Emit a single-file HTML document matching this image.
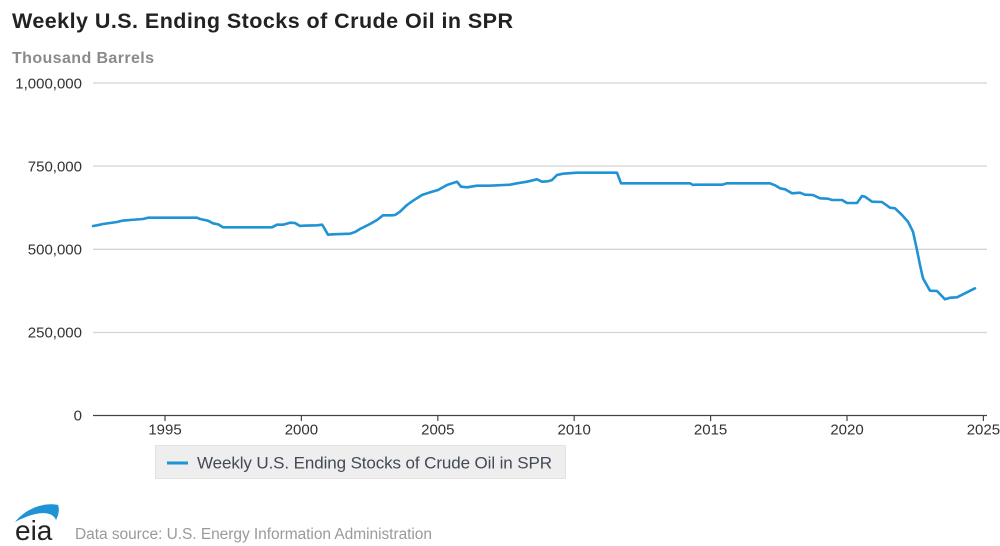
<!DOCTYPE html>
<html>
<head>
<meta charset="utf-8">
<style>
html,body{margin:0;padding:0;background:#fff;}
body{width:1000px;height:546px;overflow:hidden;}
svg{display:block;font-family:"Liberation Sans",Arial,sans-serif;}
</style>
</head>
<body>
<svg width="1000" height="546" viewBox="0 0 1000 546" xmlns="http://www.w3.org/2000/svg">
  <rect width="1000" height="546" fill="#fff"/>
  <text x="12" y="28" font-size="21.5" font-weight="bold" fill="#222" textLength="501" lengthAdjust="spacing">Weekly U.S. Ending Stocks of Crude Oil in SPR</text>
  <text x="12" y="63" font-size="16" font-weight="bold" fill="#8a8a8a" textLength="142" lengthAdjust="spacing">Thousand Barrels</text>

  <!-- gridlines -->
  <g stroke="#d4d4d4" stroke-width="1.3">
    <line x1="93" y1="83" x2="987" y2="83"/>
    <line x1="93" y1="166" x2="987" y2="166"/>
    <line x1="93" y1="249.3" x2="987" y2="249.3"/>
    <line x1="93" y1="332.5" x2="987" y2="332.5"/>
  </g>
  <line x1="93" y1="415.5" x2="987" y2="415.5" stroke="#444" stroke-width="1.3"/>
  <g stroke="#444" stroke-width="1.2">
    <line x1="165" y1="415" x2="165" y2="421"/>
    <line x1="301.4" y1="415" x2="301.4" y2="421"/>
    <line x1="437.8" y1="415" x2="437.8" y2="421"/>
    <line x1="574.2" y1="415" x2="574.2" y2="421"/>
    <line x1="710.6" y1="415" x2="710.6" y2="421"/>
    <line x1="847" y1="415" x2="847" y2="421"/>
    <line x1="983.4" y1="415" x2="983.4" y2="421"/>
  </g>

  <!-- y labels -->
  <g font-size="15" fill="#333" text-anchor="end">
    <text x="82" y="88.5">1,000,000</text>
    <text x="82" y="171.5">750,000</text>
    <text x="82" y="254.5">500,000</text>
    <text x="82" y="337.5">250,000</text>
    <text x="82" y="420.5">0</text>
  </g>
  <!-- x labels -->
  <g font-size="15" fill="#333" text-anchor="middle">
    <text x="165" y="434.5">1995</text>
    <text x="301.4" y="434.5">2000</text>
    <text x="437.8" y="434.5">2005</text>
    <text x="574.2" y="434.5">2010</text>
    <text x="710.6" y="434.5">2015</text>
    <text x="847" y="434.5">2020</text>
    <text x="983.4" y="434.5">2025</text>
  </g>

  <!-- series -->
  <polyline fill="none" stroke="#1f93d3" stroke-width="2.6" stroke-linejoin="round" stroke-linecap="round"
    points="93,226 97,225.3 103,224 110,223 117,222 122,220.7 130,220 143,219 148,217.7 197,217.7 200,219 208,220.7 213,223.3 218,224.3 223,227.3 272,227.3 277,224.7 283,224.7 290,222.7 295,223 300,226 303,225.7 317,225.3 322,224.7 323,226 328,234.7 333,234.3 350,233.7 355,232 360,229 370,224 377,220 383,215.3 392,215.3 395,215 400,211.7 407,205 413,200.7 422,195 427,193.3 432,191.7 438,190 447,185 452,183.3 457,181.7 461,186.7 467,187.3 477,185.7 490,185.7 510,184.7 517,183.3 527,181.7 537,179.3 542,181.7 548,181.3 552,180 557,175 563,173.7 577,172.7 617,172.7 621,183.3 650,183.3 690,183.3 693,185 695,184.7 722,184.7 727,183.3 770,183.3 775,185.3 780,188.3 785,189.3 792,193.3 800,192.7 805,194.7 813,195 820,198.3 828,198.7 832,200 842,200 847,203 857,203 862,196 865,196.7 872,201.7 882,202 890,207.7 895,208.3 902,215 908,221.7 913,231.7 917,250 920,265 923,278.3 930,290.7 937,291 945,299.3 950,297.7 957,297.3 975,288.3"/>

  <!-- legend -->
  <rect x="155.5" y="445.5" width="410" height="33" fill="#eeeeee" stroke="#e2e2e2" stroke-width="1"/>
  <line x1="167" y1="463" x2="188" y2="463" stroke="#1f93d3" stroke-width="3"/>
  <text x="197" y="468.5" font-size="17" fill="#434a56" textLength="355" lengthAdjust="spacing">Weekly U.S. Ending Stocks of Crude Oil in SPR</text>

  <!-- logo -->
  <path d="M15,522 C26,508 45,502 58,505 C60,510 58,516 56,520 C53,512 40,509 15,522 Z" fill="#1f93d3"/>
  <text x="15" y="540" font-size="28" fill="#222">eia</text>
  <text x="75" y="539" font-size="15.5" fill="#9a9a9a" textLength="357" lengthAdjust="spacing">Data source: U.S. Energy Information Administration</text>
</svg>
</body>
</html>
